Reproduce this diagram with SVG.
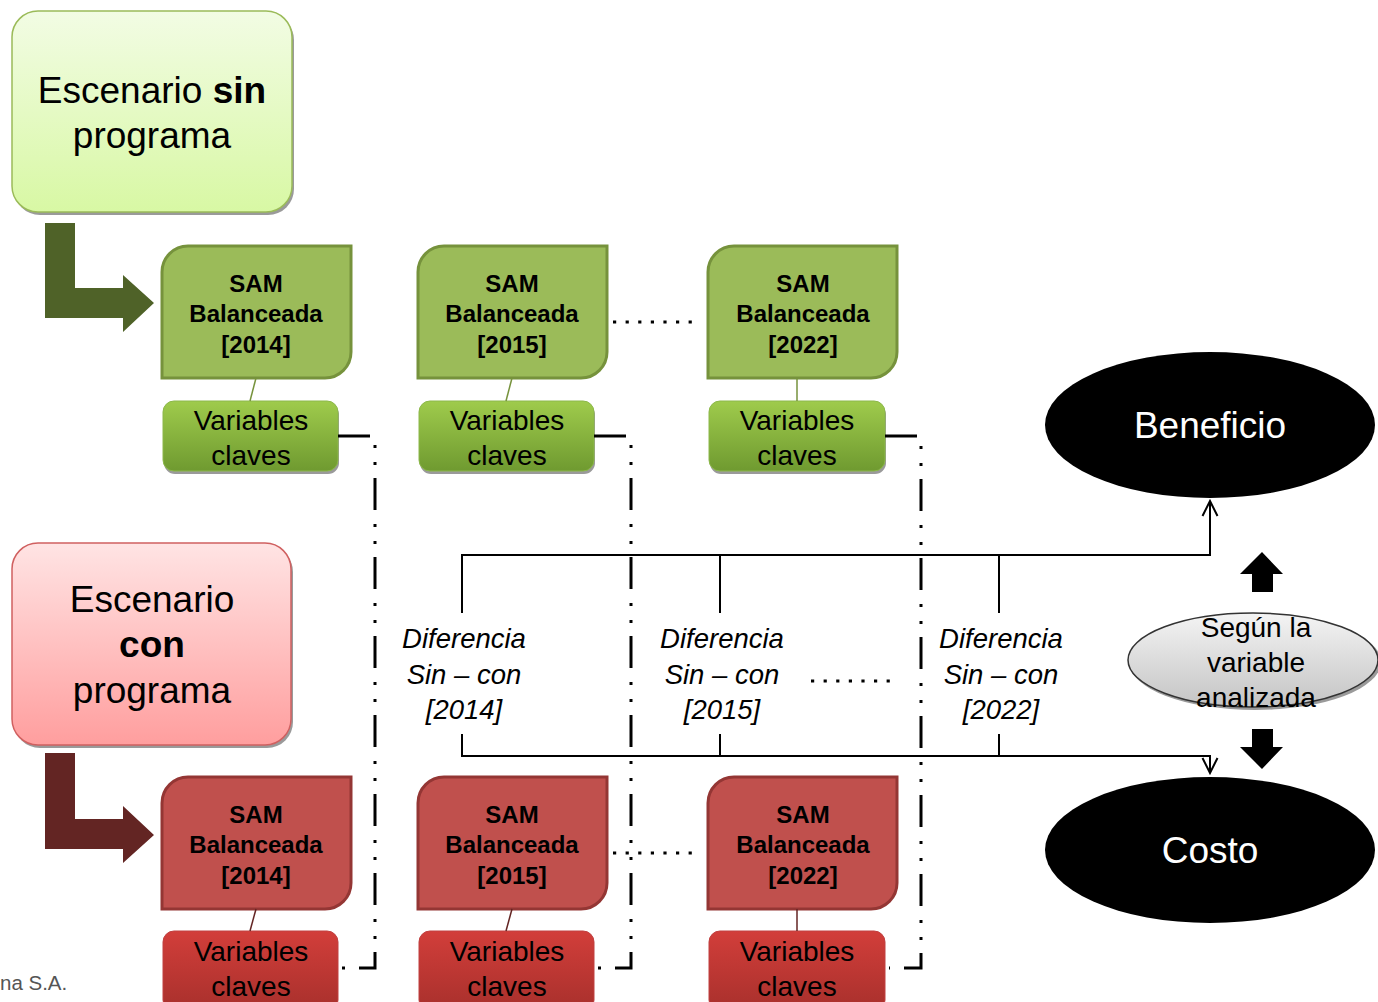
<svg xmlns="http://www.w3.org/2000/svg" width="1378" height="1002" viewBox="0 0 1378 1002">
<defs>
<linearGradient id="gTop" x1="0" y1="0" x2="0" y2="1"><stop offset="0" stop-color="#F2FCE4"/><stop offset="1" stop-color="#D8F8A4"/></linearGradient>
<linearGradient id="rTop" x1="0" y1="0" x2="0" y2="1"><stop offset="0" stop-color="#FFE4E4"/><stop offset="1" stop-color="#FF9E9E"/></linearGradient>
<linearGradient id="gVar" x1="0" y1="0" x2="0" y2="1"><stop offset="0" stop-color="#9FCB4C"/><stop offset="1" stop-color="#6F9A30"/></linearGradient>
<linearGradient id="rVar" x1="0" y1="0" x2="0" y2="1"><stop offset="0" stop-color="#D23E3A"/><stop offset="1" stop-color="#A8302C"/></linearGradient>
<linearGradient id="gray" x1="0" y1="0" x2="0" y2="1"><stop offset="0" stop-color="#F4F4F4"/><stop offset="1" stop-color="#C4C4C4"/></linearGradient>
<marker id="open" viewBox="0 0 18 18" refX="16" refY="9" markerWidth="18" markerHeight="18" markerUnits="userSpaceOnUse" orient="auto"><path d="M1,1.5 L16,9 L1,16.5" fill="none" stroke="#000" stroke-width="2"/></marker>
</defs>
<style>
.t{font-family:"Liberation Sans",Arial,sans-serif;text-anchor:middle;fill:#000}
.big{font-size:37px}
.sam{font-size:24px;font-weight:bold}
.var{font-size:28px}
.dif{font-size:27.5px;font-style:italic}
.gsam{fill:#9BBB59;stroke:#76923C;stroke-width:3}
.rsam{fill:#C0504D;stroke:#943634;stroke-width:3}
.gvar{fill:url(#gVar);stroke:#8CB84A;stroke-width:1}
.rvar{fill:url(#rVar);stroke:#C04040;stroke-width:1}
.shadow{fill:#9a9a9a}
.dash{fill:none;stroke:#000;stroke-width:3;stroke-dasharray:32 14 3 14 3 13}
.dots{fill:none;stroke:#000;stroke-width:3.2;stroke-dasharray:3.2 9.4}
.ln{fill:none;stroke:#000;stroke-width:2}
.gl{stroke:#76923C;stroke-width:1.5}
.rl{stroke:#632523;stroke-width:1.5}
</style>

<g id="escenario-sin">
<rect x="14" y="14" width="280" height="201" rx="26" class="shadow"/>
<rect x="12" y="11" width="280" height="201" rx="26" fill="url(#gTop)" stroke="#9BBB59" stroke-width="1.5"/>
<text class="t big" x="152" y="103">Escenario <tspan font-weight="bold">sin</tspan></text>
<text class="t big" x="152" y="148">programa</text>
</g>
<g id="escenario-con">
<rect x="14" y="546" width="279" height="202" rx="26" class="shadow"/>
<rect x="12" y="543" width="279" height="202" rx="26" fill="url(#rTop)" stroke="#D06060" stroke-width="1.5"/>
<text class="t big" x="152" y="612">Escenario</text>
<text class="t big" x="152" y="657" font-weight="bold">con</text>
<text class="t big" x="152" y="703">programa</text>
</g>

<g id="arrow-sin"><path d="M45,223 H75 V288 H123 V275 L154,303 L123,332 V318 H45 Z" fill="#4F6228"/></g>
<g id="arrow-con"><path d="M45,753 H75 V819 H123 V806 L154,835 L123,863 V849 H45 Z" fill="#632523"/></g>

<g id="sam-sin-2014"><path class="gsam" d="M162,378 V272 A26,26 0 0 1 188,246 H351 V352 A26,26 0 0 1 325,378 Z"/>
<text class="t sam" x="256" y="292">SAM</text><text class="t sam" x="256" y="322">Balanceada</text><text class="t sam" x="256" y="353">[2014]</text></g>
<g id="sam-sin-2015"><path class="gsam" d="M418,378 V272 A26,26 0 0 1 444,246 H607 V352 A26,26 0 0 1 581,378 Z"/>
<text class="t sam" x="512" y="292">SAM</text><text class="t sam" x="512" y="322">Balanceada</text><text class="t sam" x="512" y="353">[2015]</text></g>
<g id="sam-sin-2022"><path class="gsam" d="M708,378 V272 A26,26 0 0 1 734,246 H897 V352 A26,26 0 0 1 871,378 Z"/>
<text class="t sam" x="803" y="292">SAM</text><text class="t sam" x="803" y="322">Balanceada</text><text class="t sam" x="803" y="353">[2022]</text></g>

<g id="sam-con-2014"><path class="rsam" d="M162,909 V803 A26,26 0 0 1 188,777 H351 V883 A26,26 0 0 1 325,909 Z"/>
<text class="t sam" x="256" y="823">SAM</text><text class="t sam" x="256" y="853">Balanceada</text><text class="t sam" x="256" y="884">[2014]</text></g>
<g id="sam-con-2015"><path class="rsam" d="M418,909 V803 A26,26 0 0 1 444,777 H607 V883 A26,26 0 0 1 581,909 Z"/>
<text class="t sam" x="512" y="823">SAM</text><text class="t sam" x="512" y="853">Balanceada</text><text class="t sam" x="512" y="884">[2015]</text></g>
<g id="sam-con-2022"><path class="rsam" d="M708,909 V803 A26,26 0 0 1 734,777 H897 V883 A26,26 0 0 1 871,909 Z"/>
<text class="t sam" x="803" y="823">SAM</text><text class="t sam" x="803" y="853">Balanceada</text><text class="t sam" x="803" y="884">[2022]</text></g>

<g id="var-sin-2014"><rect x="164" y="404" width="175" height="70" rx="11" class="shadow"/><rect x="163" y="401" width="175" height="70" rx="11" class="gvar"/>
<text class="t var" x="251" y="430">Variables</text><text class="t var" x="251" y="465">claves</text></g>
<g id="var-sin-2015"><rect x="420" y="404" width="175" height="70" rx="11" class="shadow"/><rect x="419" y="401" width="175" height="70" rx="11" class="gvar"/>
<text class="t var" x="507" y="430">Variables</text><text class="t var" x="507" y="465">claves</text></g>
<g id="var-sin-2022"><rect x="710" y="404" width="176" height="70" rx="11" class="shadow"/><rect x="709" y="401" width="176" height="70" rx="11" class="gvar"/>
<text class="t var" x="797" y="430">Variables</text><text class="t var" x="797" y="465">claves</text></g>

<g id="var-con-2014"><rect x="163" y="931" width="175" height="80" rx="11" class="rvar"/>
<text class="t var" x="251" y="961">Variables</text><text class="t var" x="251" y="996">claves</text></g>
<g id="var-con-2015"><rect x="419" y="931" width="175" height="80" rx="11" class="rvar"/>
<text class="t var" x="507" y="961">Variables</text><text class="t var" x="507" y="996">claves</text></g>
<g id="var-con-2022"><rect x="709" y="931" width="176" height="80" rx="11" class="rvar"/>
<text class="t var" x="797" y="961">Variables</text><text class="t var" x="797" y="996">claves</text></g>

<g id="beneficio"><ellipse cx="1210" cy="425" rx="165" ry="73" fill="#000"/><text class="t big" x="1210" y="438" style="fill:#fff">Beneficio</text></g>
<g id="costo"><ellipse cx="1210" cy="850" rx="165" ry="73" fill="#000"/><text class="t big" x="1210" y="863" style="fill:#fff">Costo</text></g>

<g id="segun"><ellipse cx="1255" cy="662" rx="126" ry="48" class="shadow"/><ellipse cx="1253" cy="660" rx="125" ry="47" fill="url(#gray)" stroke="#333" stroke-width="1.5"/>
<text class="t var" x="1256" y="637">Según la</text><text class="t var" x="1256" y="672">variable</text><text class="t var" x="1256" y="707">analizada</text></g>

<g id="dif-2014"><text class="t dif" x="464" y="648">Diferencia</text><text class="t dif" x="464" y="684">Sin – con</text><text class="t dif" x="464" y="719">[2014]</text></g>
<g id="dif-2015"><text class="t dif" x="722" y="648">Diferencia</text><text class="t dif" x="722" y="684">Sin – con</text><text class="t dif" x="722" y="719">[2015]</text></g>
<g id="dif-2022"><text class="t dif" x="1001" y="648">Diferencia</text><text class="t dif" x="1001" y="684">Sin – con</text><text class="t dif" x="1001" y="719">[2022]</text></g>

<g id="connectors">
<line x1="256" y1="378" x2="250" y2="401" class="gl"/>
<line x1="512" y1="378" x2="506" y2="401" class="gl"/>
<line x1="797" y1="378" x2="797" y2="401" class="gl"/>
<line x1="256" y1="909" x2="250" y2="931" class="rl"/>
<line x1="512" y1="909" x2="506" y2="931" class="rl"/>
<line x1="797" y1="909" x2="797" y2="931" class="rl"/>
<path class="dash" d="M338,436 H375 V968 H342"/>
<path class="dash" d="M594,436 H631 V968 H598"/>
<path class="dash" d="M885,436 H921 V968 H889"/>
<path class="dots" d="M613,322 H692"/>
<path class="dots" d="M613,853 H692"/>
<path class="dots" d="M811,681 H890"/>
<path class="ln" d="M462,613 V555 H1210 V501" marker-end="url(#open)"/>
<path class="ln" d="M720,613 V555"/>
<path class="ln" d="M999,613 V555"/>
<path class="ln" d="M462,734 V756 H1210 V773" marker-end="url(#open)"/>
<path class="ln" d="M720,734 V756"/>
<path class="ln" d="M999,734 V756"/>
<path d="M1262,552 L1283,574 H1273 V592 H1252 V574 H1240 Z" fill="#000"/>
<path d="M1252,729 H1273 V747 H1283 L1262,769 L1240,747 H1252 Z" fill="#000"/>
</g>
<text x="0" y="990" font-family="Liberation Sans, Arial, sans-serif" font-size="20.5" fill="#555">na S.A.</text>
</svg>
